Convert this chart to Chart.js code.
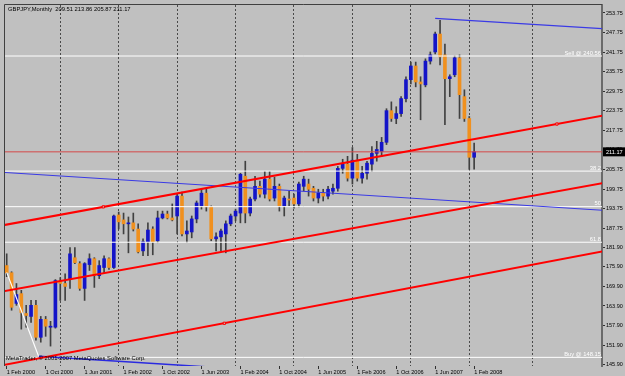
<!DOCTYPE html>
<html><head><meta charset="utf-8">
<script src="https://cdn.jsdelivr.net/npm/chart.js@4.4.1/dist/chart.umd.min.js"></script>
<style>html,body{margin:0;padding:0;background:#c0c0c0;}#wrap{width:625px;height:376px;}</style>
</head><body><div id="wrap"><canvas id="c" width="625" height="376"></canvas></div>
<script>
// ---- DATA (GBPJPY monthly, bar 0 = Feb 2000 ... bar 96 = Feb 2008) ----
const openP = [176.3,174.1,164.7,167.7,161.6,160.7,164.1,154.3,159.8,157.4,157.4,171.4,170.8,172.3,178.7,176.9,169.3,176.6,178.4,173.2,175.7,178.4,175.7,191.8,190.3,189.1,189.4,187.5,180.8,183.6,187.5,183.9,190.9,192.1,190.9,191.5,197.6,186.0,186.6,190.6,194.6,198.5,194.3,184.5,185.1,186.0,189.1,191.5,192.4,203.7,192.4,196.7,200.6,198.2,202.8,197.0,200.6,194.6,196.7,197.0,195.2,200.6,201.3,200.0,197.0,198.5,197.6,199.1,200.0,206.1,207.4,203.1,208.6,203.1,204.6,207.4,210.7,211.3,214.1,223.8,221.4,222.9,227.5,233.3,237.5,232.6,231.7,239.0,241.8,247.3,240.9,233.6,234.8,240.0,228.1,221.4,209.51];
const highP = [179.9,174.4,170.8,168.7,164.1,165.6,165.6,160.7,160.7,159.2,172.0,172.6,173.8,181.8,181.8,177.5,177.2,179.9,178.7,177.8,179.3,178.7,191.8,192.7,192.4,191.2,192.4,189.1,184.5,189.4,188.2,193.0,193.0,193.0,195.2,198.2,198.8,190.0,191.5,196.1,199.7,199.7,194.6,186.3,187.5,190.0,192.1,193.6,204.6,208.3,197.3,203.7,202.2,205.2,205.2,203.4,201.3,197.6,199.1,198.2,201.9,203.7,202.8,200.6,199.7,199.7,200.6,201.3,206.7,208.9,209.8,212.5,210.4,206.7,208.3,212.8,214.4,215.6,224.4,226.5,225.0,228.1,234.2,238.7,238.7,234.2,239.7,241.8,247.9,251.5,244.2,234.8,240.6,240.9,230.2,222.0,213.86];
const lowP = [172.9,162.6,164.1,156.8,157.4,158.9,153.4,152.8,154.6,151.6,157.1,165.6,165.6,169.3,176.9,168.7,165.6,174.8,169.6,172.3,173.8,175.1,175.4,187.5,186.0,180.2,186.9,180.2,179.3,179.3,179.6,183.3,190.6,190.6,190.0,186.0,185.4,183.3,184.8,189.4,193.6,193.0,183.9,180.8,180.8,180.2,188.5,190.0,189.4,189.4,191.5,196.1,197.3,197.0,196.1,196.1,193.0,191.5,194.6,193.9,194.3,199.1,197.6,196.1,195.5,196.1,196.7,198.2,199.1,204.6,202.2,201.3,202.2,201.6,202.8,205.2,208.3,209.8,213.4,220.5,219.8,222.0,226.5,232.0,231.1,221.0,231.1,238.1,241.2,237.8,219.5,228.1,234.2,221.4,220.5,205.8,205.87];
const closeP = [174.1,163.5,167.4,161.9,161.0,164.1,154.3,159.8,157.7,157.7,171.7,170.8,169.9,179.9,177.2,169.3,176.9,178.4,173.2,176.3,178.4,175.7,191.5,189.7,189.1,189.4,187.5,180.5,183.6,187.2,183.6,190.9,192.1,190.9,190.3,197.6,186.0,186.9,190.6,195.5,198.5,194.3,184.5,185.1,186.9,189.1,191.5,193.0,204.3,192.4,196.7,200.6,198.2,202.8,196.7,200.6,194.6,197.0,196.4,195.2,201.3,202.8,199.7,197.0,198.5,197.6,199.7,200.0,206.1,207.4,203.1,208.6,203.1,204.6,207.7,210.7,211.9,214.1,223.8,221.4,222.9,227.5,233.3,237.5,232.6,232.0,239.0,240.9,247.3,240.3,233.6,234.2,240.0,228.7,221.4,209.5,211.17];

const xTickBars = [0,8,16,24,32,40,48,56,64,72,80,88,96];
const xTickLabels = ['1 Feb 2000','1 Oct 2000','1 Jun 2001','1 Feb 2002','1 Oct 2002','1 Jun 2003','1 Feb 2004','1 Oct 2004','1 Jun 2005','1 Feb 2006','1 Oct 2006','1 Jun 2007','1 Feb 2008'];
const gridBars = [11,23,35,47,59,71,83,95,108];
const yTickValues = [253.75,247.75,241.75,235.75,229.75,223.75,217.75,211.75,205.75,199.75,193.75,187.75,181.90,175.90,169.90,163.90,157.90,151.90,145.90];

const fibLevels = [240.56,205.26,194.355,183.45,148.15];
const fibLabels = ['Sell @ 240.56','38.2','50','61.8','Buy @ 148.15'];

const channelBars = [-1,124];
const channelUpper = [188.6,222.7];
const channelMiddle = [168.3,202.0];
const channelLower = [145.7,181.1];
const channelMarkBars = [19.85,113,44.7];
const channelMarks = [194.3,219.7,158.6];

const blueLongBars = [-1,124];
const blueLong = [204.9,193.1];
const blueTopBars = [88,124];
const blueTop = [252.1,248.8];
const blueLowBars = [6.6,124];
const blueLow = [148.5,137.4];
const whiteLineBars = [0,6.6];
const whiteLine = [174.2,148.3];

const titleText = 'GBPJPY,Monthly  209.51 213.86 205.87 211.17';
const copyrightText = 'MetaTrader, \u00A9 2001-2007 MetaQuotes Software Corp.';

// ---- CHART ----
const FONT = '"Liberation Sans", Arial, sans-serif';
Chart.defaults.font.family = FONT;
Chart.defaults.font.size = 5.6;
Chart.defaults.color = '#000';

const BULL = '#1414c8', BEAR = '#f0901e';
const idx = openP.map((_, i) => i);
const pts = (xs, ys) => xs.map((x, i) => ({x: x, y: ys[i]}));

const lineDs = (xs, ys, color, w, order, dash) => ({
  type: 'line', data: pts(xs, ys), borderColor: color, borderWidth: w,
  pointRadius: 0, fill: false, tension: 0, order: order, borderDash: dash || []
});

const datasets = [
  lineDs(channelBars, channelUpper, '#ff0000', 2, 1),
  lineDs(channelBars, channelMiddle, '#ff0000', 2, 1),
  lineDs(channelBars, channelLower, '#ff0000', 2, 1),
  {type: 'scatter', data: pts(channelMarkBars, channelMarks), pointStyle: 'rect', pointRadius: 1.6,
   borderColor: '#ff0000', backgroundColor: '#c0c0c0', borderWidth: 1, order: 0},
  lineDs(blueLongBars, blueLong, '#3a3ae6', 1, 2),
  lineDs(blueTopBars, blueTop, '#3a3ae6', 1.2, 2),
  lineDs(blueLowBars, blueLow, '#2a2ae0', 1.5, 2),
  lineDs(whiteLineBars, whiteLine, '#ffffff', 1.2, 3),
  lineDs([-1, 124], [closeP[closeP.length - 1], closeP[closeP.length - 1]], '#d44848', 1, 3),
  ...fibLevels.map(v => lineDs([-1, 124], [v, v], '#ffffff', 1, 4)),
  {type: 'bar', data: idx.map(i => ({x: i, y: [openP[i], closeP[i]]})),
   backgroundColor: idx.map(i => closeP[i] >= openP[i] ? BULL : BEAR),
   barThickness: 3, minBarLength: 1, borderWidth: 0, grouped: false, order: 6},
  {type: 'bar', data: idx.map(i => ({x: i, y: [lowP[i], highP[i]]})),
   backgroundColor: '#404040', barThickness: 1, minBarLength: 1, borderWidth: 0, grouped: false, order: 7}
];

const overlay = {
  id: 'overlay',
  beforeDraw(chart) {
    const c = chart.ctx;
    c.save(); c.fillStyle = '#c0c0c0'; c.fillRect(0, 0, chart.width, chart.height); c.restore();
  },
  afterDraw(chart) {
    const c = chart.ctx, a = chart.chartArea, ys = chart.scales.y;
    c.save();
    // frame
    c.strokeStyle = '#404040'; c.lineWidth = 1;
    c.beginPath();
    c.moveTo(a.left - 0.5, a.bottom); c.lineTo(a.left - 0.5, a.top - 0.5); c.lineTo(a.right, a.top - 0.5);
    c.stroke();
    // texts
    c.font = '5.8px ' + FONT; c.textBaseline = 'middle';
    c.fillStyle = '#000'; c.textAlign = 'left';
    c.fillText(titleText, a.left + 3, a.top + 4.5);
    c.fillText(copyrightText, a.left + 1, a.bottom - 8);
    c.fillStyle = '#ffffff'; c.textAlign = 'right'; c.textBaseline = 'alphabetic';
    fibLevels.forEach((v, i) => c.fillText(fibLabels[i], a.right - 1, ys.getPixelForValue(v) - 1.5));
    // current price box
    const last = closeP[closeP.length - 1];
    const py = ys.getPixelForValue(last);
    c.fillStyle = '#000'; c.fillRect(a.right + 1, py - 4.5, 22, 9);
    c.fillStyle = '#fff'; c.textAlign = 'left'; c.textBaseline = 'middle';
    c.font = '5.6px ' + FONT;
    c.fillText(last.toFixed(2), a.right + 4, py + 0.5);
    c.restore();
  }
};

new Chart(document.getElementById('c'), {
  type: 'bar',
  data: {datasets: datasets},
  options: {
    responsive: false, animation: false, events: [],
    layout: {padding: {left: 1, top: 2, right: 0, bottom: 0}},
    plugins: {legend: {display: false}, tooltip: {enabled: false}},
    scales: {
      x: {
        type: 'linear', position: 'bottom', min: -0.35, max: 122.26, offset: false,
        afterBuildTicks: s => { s.ticks = xTickBars.concat(gridBars).sort((p, q) => p - q).map(v => ({value: v})); },
        afterFit: s => { s.height = 10; },
        ticks: {autoSkip: false, maxRotation: 0, align: 'start', padding: 0, color: '#000',
          callback: v => { const k = xTickBars.indexOf(v); return k >= 0 ? xTickLabels[k] : ''; }},
        grid: {offset: false, lineWidth: 1, tickLength: 3,
          color: ctx => (ctx.tick && gridBars.includes(ctx.tick.value)) ? '#4a4a4a' : 'rgba(0,0,0,0)',
          tickColor: ctx => (ctx.tick && xTickBars.includes(ctx.tick.value)) ? '#303030' : 'rgba(0,0,0,0)'},
        border: {display: false, dash: [2, 2]}
      },
      y: {
        type: 'linear', position: 'right', min: 145.5, max: 256.2, beginAtZero: false,
        afterBuildTicks: s => { s.ticks = yTickValues.map(v => ({value: v})); },
        afterFit: s => { s.width = 23; },
        ticks: {autoSkip: false, padding: 1, color: '#000', font: {size: 5.5},
          callback: v => Number(v).toFixed(2)},
        grid: {drawOnChartArea: false, tickLength: 3, tickColor: '#303030'},
        border: {display: true, color: '#6a6a6a', width: 2}
      }
    }
  },
  plugins: [overlay]
});
</script></body></html>
